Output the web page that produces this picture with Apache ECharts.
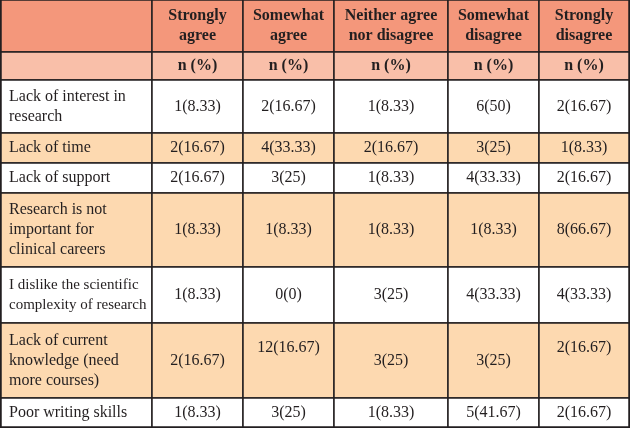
<!DOCTYPE html>
<html><head><meta charset="utf-8">
<script src="https://cdn.jsdelivr.net/npm/echarts@6/dist/echarts.min.js"></script>
<style>html,body{margin:0;padding:0;background:#fff}#c{width:630px;height:429px}</style>
</head><body><div id="c"></div>
<script>
// ---- data ----
const columnHeaders = ['Strongly\nagree', 'Somewhat\nagree', 'Neither agree\nnor disagree', 'Somewhat\ndisagree', 'Strongly\ndisagree'];
const subHeader = 'n (%)';
const barriers = [
  'Lack of interest in\nresearch',
  'Lack of time',
  'Lack of support',
  'Research is not\nimportant for\nclinical careers',
  'I dislike the scientific\ncomplexity of research',
  'Lack of current\nknowledge (need\nmore courses)',
  'Poor writing skills'
];
const stronglyAgreeN = [1, 2, 2, 1, 1, 2, 1];
const stronglyAgreePct = [8.33, 16.67, 16.67, 8.33, 8.33, 16.67, 8.33];
const somewhatAgreeN = [2, 4, 3, 1, 0, 12, 3];
const somewhatAgreePct = [16.67, 33.33, 25, 8.33, 0, 16.67, 25];
const neitherN = [1, 2, 1, 1, 3, 3, 1];
const neitherPct = [8.33, 16.67, 8.33, 8.33, 25, 25, 8.33];
const somewhatDisagreeN = [6, 3, 4, 1, 4, 3, 5];
const somewhatDisagreePct = [50, 25, 33.33, 8.33, 33.33, 25, 41.67];
const stronglyDisagreeN = [2, 1, 2, 8, 4, 2, 2];
const stronglyDisagreePct = [16.67, 8.33, 16.67, 66.67, 33.33, 16.67, 16.67];

// ---- layout / style ----
const colWidths = [151, 91, 91, 114, 91, 90];
const rowHeights = [52, 28, 53, 30, 30, 74, 56, 75, 29];
const H1 = '#F4977B', H2 = '#F9BFA9', ORANGE = '#FDD9B0', WHITE = '#FFFFFF';
const rowFills = [WHITE, ORANGE, WHITE, ORANGE, WHITE, ORANGE, WHITE];
const BORDER = '#231F20';
const FONT = 'Liberation Serif';
const TEXT = '#231F20';
const raised = {5: [false, true, false, false, true]}; // cells drawn near top of tall row

const valueCols = [
  [stronglyAgreeN, stronglyAgreePct],
  [somewhatAgreeN, somewhatAgreePct],
  [neitherN, neitherPct],
  [somewhatDisagreeN, somewhatDisagreePct],
  [stronglyDisagreeN, stronglyDisagreePct]
];

function lab(extra) {
  return Object.assign({ fontFamily: FONT, fontSize: 16, color: TEXT, lineHeight: 20, overflow: 'none' }, extra || {});
}
function item(color) { return { color: color, borderColor: BORDER, borderWidth: 1.5 }; }

const cells = [];
cells.push({ coord: [0, 0], value: '', itemStyle: item(H1), label: lab() });
cells.push({ coord: [0, 1], value: '', itemStyle: item(H2), label: lab() });
columnHeaders.forEach((h, i) => {
  cells.push({ coord: [i + 1, 0], value: h, itemStyle: item(H1), label: lab({ fontWeight: 'bold' }) });
  cells.push({ coord: [i + 1, 1], value: subHeader, itemStyle: item(H2), label: lab({ fontWeight: 'bold' }) });
});
barriers.forEach((b, r) => {
  cells.push({ coord: [0, r + 2], value: b, itemStyle: item(rowFills[r]),
    label: lab({ align: 'left', position: 'insideLeft', distance: 8, padding: [0, 0, 0, 0], fontSize: r === 4 ? 15 : 16 }) });
  valueCols.forEach(([n, p], c) => {
    const up = raised[r] && raised[r][c];
    cells.push({ coord: [c + 1, r + 2], value: n[r] + '(' + p[r] + ')',
      itemStyle: item(rowFills[r]),
      label: up ? lab({ position: 'insideTop', distance: 13 }) : lab() });
  });
});

const chart = echarts.init(document.getElementById('c'));
chart.setOption({
  animation: false,
  matrix: {
    left: 1, top: 0,
    width: colWidths.reduce((a, b) => a + b, 0),
    height: rowHeights.reduce((a, b) => a + b, 0),
    x: { show: false, data: colWidths.map((w, i) => ({ value: 'c' + i, size: w })) },
    y: { show: false, data: rowHeights.map((h, i) => ({ value: 'r' + i, size: h })) },
    body: {
      data: cells,
      itemStyle: { borderColor: BORDER, borderWidth: 1.5 },
      label: lab()
    },
    backgroundStyle: { borderColor: BORDER, borderWidth: 2 }
  }
});
</script>
</body></html>
